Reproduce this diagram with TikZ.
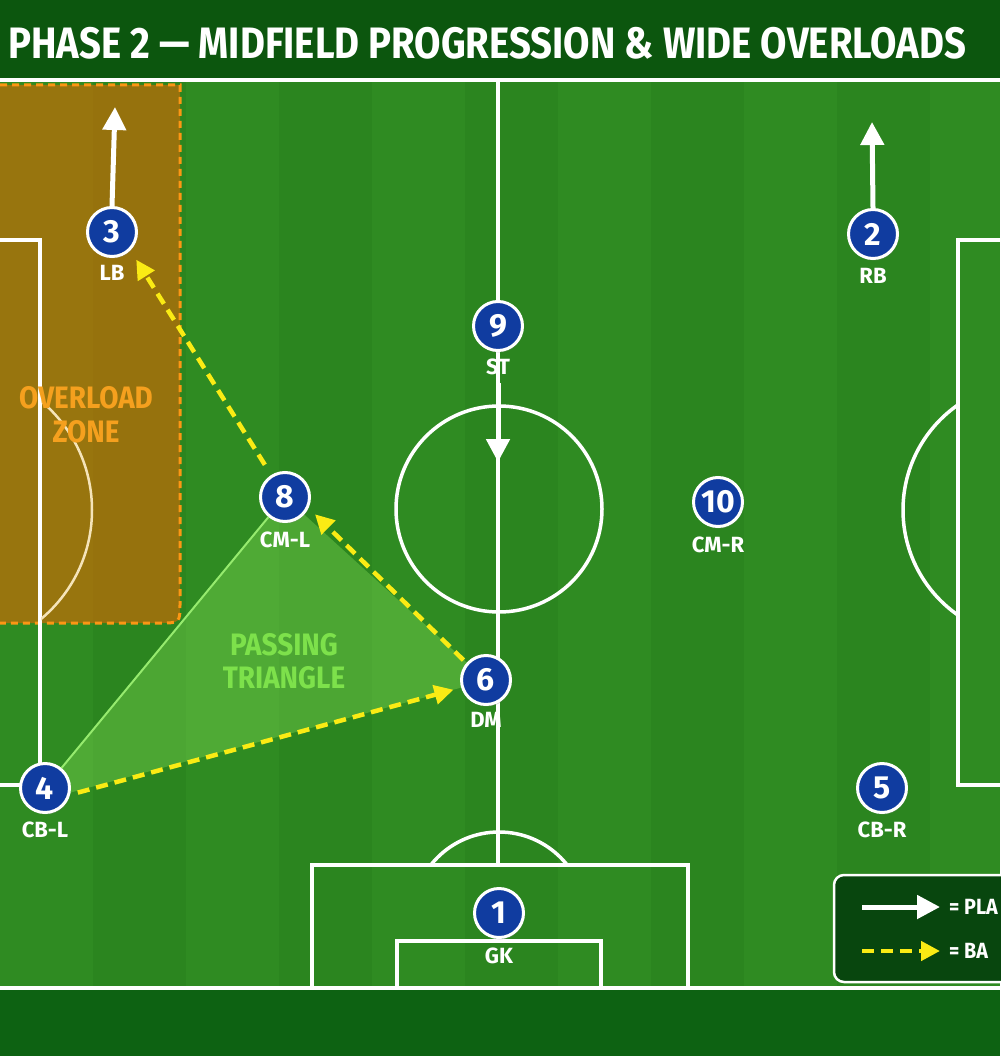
\documentclass[tikz,border=0pt]{standalone}
\usepackage{fontspec}
\setmainfont{Fira Sans}
\usepackage{graphicx}
\usetikzlibrary{arrows.meta,shadows}
\pgfdeclarelayer{field}
\pgfdeclarelayer{zone}
\pgfdeclarelayer{lines}
\pgfsetlayers{field,zone,lines,main}
\definecolor{fieldA}{RGB}{47,139,34}
\definecolor{fieldB}{RGB}{43,133,31}
\definecolor{band}{RGB}{12,86,14}
\definecolor{bandb}{RGB}{13,98,18}
\definecolor{pblue}{RGB}{16,60,160}
\definecolor{zoneor}{RGB}{235,100,0}
\definecolor{zoneline}{RGB}{252,150,20}
\definecolor{zonetext}{RGB}{245,160,30}
\definecolor{tri}{RGB}{140,230,90}
\definecolor{triline}{RGB}{150,235,110}
\definecolor{trit}{RGB}{125,225,75}
\definecolor{passy}{RGB}{250,235,20}
\definecolor{legbg}{RGB}{8,70,14}
\definecolor{cream}{RGB}{245,228,185}
\newcommand{\cnd}[1]{\scalebox{0.9}[1]{#1}}
\tikzset{
  pitch/.style={draw=white, line width=3.5pt},
  player/.style={circle, fill=pblue, draw=white, line width=3pt, minimum size=49pt,
    inner sep=0pt, text=white, font=\fontsize{32}{32}\selectfont\bfseries,
    drop shadow={opacity=0.3, shadow xshift=1pt, shadow yshift=-2pt}},
  role/.style={text=white, font=\fontsize{22}{22}\selectfont\bfseries, inner sep=0pt},
  run/.style={draw=white, line width=5pt, -{Triangle[length=23pt,width=23pt]}},
  pass/.style={draw=passy, line width=4.5pt, dash pattern=on 12pt off 7pt,
    -{Triangle[length=19pt,width=19pt]}},
  zonetxt/.style={text=zonetext, font=\fontsize{31}{31}\selectfont\bfseries, inner sep=0pt},
  tritxt/.style={text=trit, font=\fontsize{31}{31}\selectfont\bfseries, inner sep=0pt},
  legtxt/.style={text=white, font=\fontsize{22}{22}\selectfont\bfseries, inner sep=0pt, anchor=west},
}
\begin{document}
\begin{tikzpicture}[x=1pt,y=-1pt]
\useasboundingbox (0,0) rectangle (1000,1056);
% ---------- field ----------
\begin{pgfonlayer}{field}
  \fill[band] (0,0) rectangle (1000,80);
  \fill[fieldA] (0,80) rectangle (1000,990);
  \foreach \i in {0,...,5} \fill[fieldB] ({\i*186+93},80) rectangle +(93,910);
  \fill[bandb] (0,990) rectangle (1000,1056);
\end{pgfonlayer}
% ---------- pitch lines ----------
\begin{pgfonlayer}{lines}
  \draw[pitch] (0,80) -- (1000,80);
  \draw[pitch] (0,988) -- (1000,988);
  \draw[pitch] (498,80) -- (498,865);
  \draw[pitch] (499,509) circle (103);
  \draw[pitch] (312,988) -- (312,865) -- (688,865) -- (688,988);
  \draw[pitch] (397,988) -- (397,941) -- (601,941) -- (601,988);
  \begin{scope}
    \clip (0,80) rectangle (1000,864);
    \draw[pitch] (499,919) circle (87);
  \end{scope}
  \draw[pitch] (0,240) -- (40,240) -- (40,785) -- (0,785);
  \begin{scope}
    \clip (41,80) rectangle (1000,990);
    \draw[draw=cream, line width=2.5pt] (-50,510) circle (142);
  \end{scope}
  \draw[pitch] (1000,240) -- (958,240) -- (958,785) -- (1000,785);
  \begin{scope}
    \clip (0,80) rectangle (957,990);
    \draw[pitch] (1031,510) circle (128);
  \end{scope}
\end{pgfonlayer}
% ---------- title ----------
\node[anchor=west, text=white, inner sep=0pt] (title) at (8,43)
  {\resizebox{958pt}{\height}{\fontsize{44}{44}\selectfont\bfseries PHASE 2 — MIDFIELD PROGRESSION \& WIDE OVERLOADS}};
% ---------- players ----------
\node[player] (n3) at (112,232) {3};
\node[role] (l3) at (112,273) {LB};
\node[player] (n2) at (873,234) {2};
\node[role] (l2) at (873,276) {RB};
\node[player] (n9) at (498,326) {9};
\node[role] (l9) at (498,367) {ST};
\node[player] (n8) at (285,497) {8};
\node[role] (l8) at (285,540) {CM-L};
\node[player] (n10) at (718,502) {10};
\node[role] (l10) at (718,545) {CM-R};
\node[player] (n6) at (486,680) {6};
\node[role] (l6) at (486,720) {DM};
\node[player] (n4) at (45,788) {4};
\node[role] (l4) at (45,830) {CB-L};
\node[player] (n5) at (882,788) {5};
\node[role] (l5) at (882,830) {CB-R};
\node[player] (n1) at (499,913) {1};
\node[role] (l1) at (499,956) {GK};
% ---------- overload zone & passing triangle ----------
\begin{pgfonlayer}{zone}
  \fill[zoneor, opacity=0.56] (-20,85) -- (180,85) -- (180,603) .. controls (180,623) .. (160,623) -- (-20,623) -- cycle;
  \draw[zoneline, line width=3pt, dash pattern=on 7pt off 5pt] (0,85) -- (180,85) -- (180,603) .. controls (180,623) .. (160,623) -- (0,623);
  \fill[tri, opacity=0.35] (n4.center) -- (n8.center) -- (n6.center) -- (n6.-163) -- (n4.-10) -- cycle;
\end{pgfonlayer}
\draw[triline, line width=2pt] (n4) -- (n8);
\node[zonetxt] (z1) at (86,398) {\cnd{OVERLOAD}};
\node[zonetxt] (z2) at (86,432) {\cnd{ZONE}};
\node[tritxt] (t1) at (284,645) {\cnd{PASSING}};
\node[tritxt] (t2) at (284,678) {\cnd{TRIANGLE}};
% ---------- runs ----------
\coordinate (r3) at (115,107);
\coordinate (r2) at (872,122);
\coordinate (r9) at (498,462);
\draw[run] (n3.north) -- (r3);
\draw[run] (n2.north) -- (r2);
\draw[run, shorten <=8pt] (l9.south) -- (r9);
% ---------- passes ----------
\draw[pass, shorten <=12pt, shorten >=11pt] (n8.122) -- (n3.-45);
\draw[pass, shorten <=4pt, shorten >=9pt] (n6.139) -- (n8.-25);
\draw[pass, shorten <=8pt, shorten >=8pt] (n4.-15) -- (n6.-163);
% ---------- legend ----------
\draw[fill=legbg, draw=white, line width=2.5pt, rounded corners=10pt] (834,875) rectangle (1030,982);
\coordinate (a1) at (862,907);
\coordinate (b1) at (940,907);
\coordinate (a2) at (862,951);
\coordinate (b2) at (940,951);
\draw[run] (a1) -- (b1);
\draw[pass] (a2) -- (b2);
\node[legtxt] (lg1) at (949,907) {\cnd{= PLA}};
\node[legtxt] (lg2) at (949,951) {\cnd{= BA}};
\end{tikzpicture}
\end{document}
